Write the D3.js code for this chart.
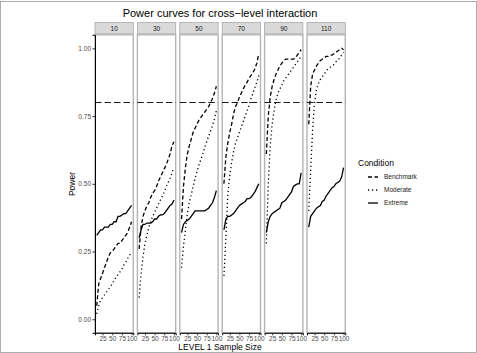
<!DOCTYPE html>
<html>
<head>
<meta charset="utf-8">
<script src="https://cdn.jsdelivr.net/npm/d3@7"></script>
<style>
  body { margin: 0; background: #fff; }
  text { font-family: "Liberation Sans", Arial, sans-serif; }
</style>
</head>
<body>
<div id="chart"></div>
<script>
var panels = ["10", "30", "50", "70", "90", "110"];
var sampleSizes = [10, 15, 20, 25, 30, 35, 40, 45, 50, 55, 60, 65, 70, 75, 80, 85, 90, 95, 100];
var conditions = ["Benchmark", "Moderate", "Extreme"];
var xTicks = [25, 50, 75, 100];
var yTicks = [0, 0.25, 0.5, 0.75, 1];
var benchmarkLine = 0.8;

// power by panel, one value per sample size
var benchmark = [
  [0.05, 0.13, 0.15, 0.17, 0.19, 0.21, 0.23, 0.245, 0.25, 0.26, 0.27, 0.28, 0.28, 0.29, 0.30, 0.31, 0.32, 0.34, 0.36],
  [0.26, 0.34, 0.38, 0.40, 0.42, 0.43, 0.45, 0.465, 0.475, 0.49, 0.51, 0.525, 0.54, 0.555, 0.57, 0.59, 0.61, 0.64, 0.655],
  [0.37, 0.49, 0.56, 0.61, 0.64, 0.665, 0.69, 0.705, 0.72, 0.735, 0.745, 0.755, 0.765, 0.775, 0.785, 0.80, 0.815, 0.835, 0.86],
  [0.50, 0.60, 0.65, 0.69, 0.72, 0.76, 0.785, 0.80, 0.82, 0.835, 0.85, 0.865, 0.875, 0.89, 0.90, 0.91, 0.925, 0.945, 0.98],
  [0.61, 0.75, 0.82, 0.86, 0.885, 0.905, 0.92, 0.935, 0.945, 0.955, 0.96, 0.96, 0.96, 0.96, 0.96, 0.965, 0.975, 0.985, 0.995],
  [0.72, 0.86, 0.905, 0.92, 0.935, 0.945, 0.955, 0.96, 0.965, 0.97, 0.97, 0.975, 0.975, 0.98, 0.985, 0.99, 0.995, 1.0, 0.995]
];
var moderate = [
  [0.02, 0.05, 0.07, 0.08, 0.09, 0.10, 0.11, 0.12, 0.13, 0.145, 0.155, 0.165, 0.175, 0.185, 0.20, 0.21, 0.225, 0.235, 0.25],
  [0.08, 0.17, 0.23, 0.28, 0.31, 0.34, 0.36, 0.38, 0.395, 0.41, 0.425, 0.44, 0.455, 0.47, 0.49, 0.505, 0.52, 0.54, 0.56],
  [0.19, 0.27, 0.33, 0.39, 0.43, 0.46, 0.49, 0.52, 0.545, 0.57, 0.59, 0.61, 0.635, 0.655, 0.675, 0.695, 0.715, 0.74, 0.77],
  [0.16, 0.30, 0.46, 0.53, 0.58, 0.62, 0.65, 0.67, 0.69, 0.71, 0.73, 0.75, 0.77, 0.79, 0.815, 0.835, 0.855, 0.875, 0.90],
  [0.28, 0.50, 0.64, 0.72, 0.77, 0.81, 0.835, 0.85, 0.865, 0.88, 0.89, 0.90, 0.91, 0.92, 0.93, 0.94, 0.95, 0.96, 0.97],
  [0.40, 0.55, 0.70, 0.80, 0.85, 0.87, 0.885, 0.895, 0.905, 0.915, 0.925, 0.93, 0.935, 0.94, 0.95, 0.955, 0.965, 0.975, 0.985]
];
var extreme = [
  [0.31, 0.32, 0.33, 0.33, 0.34, 0.34, 0.34, 0.35, 0.35, 0.36, 0.36, 0.38, 0.38, 0.385, 0.39, 0.39, 0.40, 0.41, 0.42],
  [0.30, 0.33, 0.35, 0.35, 0.355, 0.355, 0.355, 0.36, 0.37, 0.37, 0.38, 0.385, 0.385, 0.39, 0.40, 0.41, 0.42, 0.425, 0.44],
  [0.32, 0.35, 0.36, 0.365, 0.37, 0.38, 0.39, 0.40, 0.40, 0.40, 0.40, 0.40, 0.40, 0.405, 0.41, 0.42, 0.43, 0.45, 0.475],
  [0.33, 0.37, 0.38, 0.38, 0.385, 0.39, 0.40, 0.41, 0.42, 0.425, 0.43, 0.435, 0.445, 0.445, 0.45, 0.46, 0.47, 0.485, 0.50],
  [0.32, 0.36, 0.38, 0.39, 0.395, 0.40, 0.405, 0.41, 0.43, 0.435, 0.44, 0.45, 0.46, 0.47, 0.49, 0.495, 0.50, 0.50, 0.54],
  [0.34, 0.38, 0.39, 0.40, 0.41, 0.415, 0.42, 0.435, 0.44, 0.455, 0.465, 0.475, 0.485, 0.49, 0.50, 0.505, 0.51, 0.525, 0.56]
];

var width = 477, height = 353;
var panelW = 38.3, panelGap = 4.1, left0 = 95;
var panelTop = 34.8, panelBottom = 332.8, stripTop = 22.5;

var dashes = { Benchmark: "4,2.5", Moderate: "1.2,2.8", Extreme: null };
var series = { Benchmark: benchmark, Moderate: moderate, Extreme: extreme };

var svg = d3.select("#chart").append("svg")
  .attr("width", width)
  .attr("height", height);

// thin frame round the figure
svg.append("rect")
  .attr("x", 0.5).attr("y", 1.5)
  .attr("width", width - 1).attr("height", height - 2)
  .style("fill", "none").style("stroke", "#9a9a9a").style("stroke-width", 0.8);

var y = d3.scaleLinear().domain([-0.05, 1.05]).range([panelBottom, panelTop]);
var panelX = d3.scaleBand().domain(panels)
  .range([left0, left0 + panels.length * panelW + (panels.length - 1) * panelGap])
  .paddingInner(panelGap / (panelW + panelGap));

// title
svg.append("text")
  .attr("x", 220).attr("y", 17)
  .attr("text-anchor", "middle")
  .style("font-size", "11px")
  .style("fill", "#000")
  .text("Power curves for cross\u2212level interaction");

panels.forEach(function(p, i) {
  var x0 = panelX(p);
  var x = d3.scaleLinear().domain([5.5, 104.5]).range([x0, x0 + panelX.bandwidth()]);
  var g = svg.append("g");

  // strip
  g.append("rect")
    .attr("x", x0).attr("y", stripTop)
    .attr("width", panelX.bandwidth()).attr("height", panelTop - stripTop - 1)
    .style("fill", "#d9d9d9").style("stroke", "#aaaaaa").style("stroke-width", 0.8);
  g.append("text")
    .attr("x", x0 + panelX.bandwidth() / 2).attr("y", stripTop + 8)
    .attr("text-anchor", "middle")
    .style("font-size", "6.5px").style("fill", "#1a1a1a")
    .text(p);

  // panel border
  g.append("rect")
    .attr("x", x0).attr("y", panelTop)
    .attr("width", panelX.bandwidth()).attr("height", panelBottom - panelTop)
    .style("fill", "none").style("stroke", "#b5b5b5").style("stroke-width", 1.4);

  // reference line
  g.append("line")
    .attr("x1", x0).attr("x2", x0 + panelX.bandwidth())
    .attr("y1", y(benchmarkLine)).attr("y2", y(benchmarkLine))
    .style("stroke", "#000").style("stroke-width", 0.9)
    .style("stroke-dasharray", "6.5,3");

  // curves
  var line = d3.line()
    .x(function(d) { return x(d[0]); })
    .y(function(d) { return y(d[1]); });
  conditions.forEach(function(c) {
    var pts = sampleSizes.map(function(s, k) { return [s, series[c][i][k]]; });
    g.append("path")
      .attr("d", line(pts))
      .style("fill", "none").style("stroke", "#000")
      .style("stroke-width", 1.3)
      .style("stroke-dasharray", dashes[c]);
  });

  // x axis
  var xa = g.append("g").attr("transform", "translate(0," + panelBottom + ")")
    .call(d3.axisBottom(x).tickValues(xTicks).tickSize(2.5).tickPadding(1.5));
  xa.select(".domain").style("stroke", "#000").style("stroke-width", 1);
  xa.selectAll(".tick line").style("stroke", "#333");
  xa.selectAll("text").style("font-size", "6.5px").style("fill", "#4d4d4d")
    .style("font-family", "'Liberation Sans', Arial, sans-serif");

  if (i === 0) {
    var ya = g.append("g").attr("transform", "translate(" + x0 + ",0)")
      .call(d3.axisLeft(y).tickValues(yTicks).tickSize(2.5).tickPadding(1.5)
        .tickFormat(d3.format(".2f")));
    ya.select(".domain").style("stroke", "#000").style("stroke-width", 1);
    ya.selectAll(".tick line").style("stroke", "#333");
    ya.selectAll("text").style("font-size", "6.5px").style("fill", "#4d4d4d")
      .style("font-family", "'Liberation Sans', Arial, sans-serif");
  }
});

// axis titles
svg.append("text")
  .attr("x", 220).attr("y", 350)
  .attr("text-anchor", "middle")
  .style("font-size", "8.5px")
  .text("LEVEL 1 Sample Size");
svg.append("text")
  .attr("transform", "translate(75,184) rotate(-90)")
  .attr("text-anchor", "middle")
  .style("font-size", "8.5px")
  .text("Power");

// legend
var lg = svg.append("g").attr("transform", "translate(358,0)");
lg.append("text").attr("x", 0).attr("y", 166)
  .style("font-size", "8.5px").text("Condition");
conditions.forEach(function(c, k) {
  var cy = 177 + k * 13;
  lg.append("line")
    .attr("x1", 10).attr("x2", 20).attr("y1", cy).attr("y2", cy)
    .style("stroke", "#000").style("stroke-width", 1.3)
    .style("stroke-dasharray", dashes[c]);
  lg.append("text").attr("x", 26).attr("y", cy + 2.3)
    .style("font-size", "6.5px").style("fill", "#1a1a1a").text(c);
});
</script>
</body>
</html>
